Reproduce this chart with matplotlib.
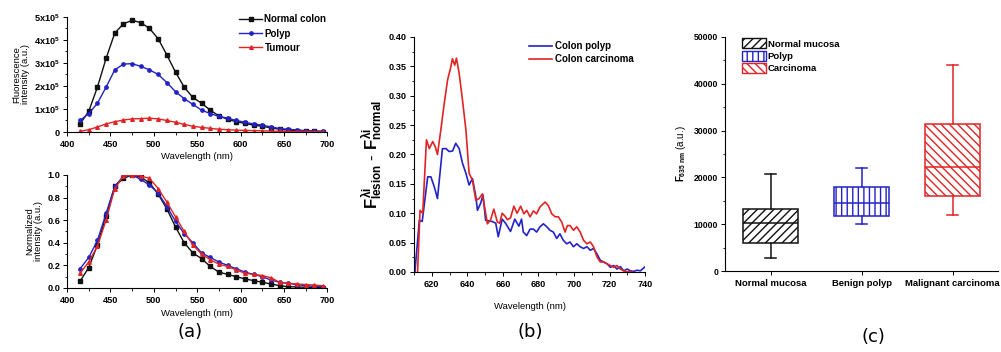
import numpy as np
import matplotlib
matplotlib.use('Agg')
import matplotlib.pyplot as plt
from matplotlib.patches import Patch
from matplotlib.ticker import MultipleLocator, FormatStrFormatter

plt.rcParams['font.family'] = ['Liberation Sans', 'DejaVu Sans']
plt.rcParams['font.weight'] = 'bold'
plt.rcParams['mathtext.fontset'] = 'custom'
plt.rcParams['mathtext.rm'] = 'Liberation Sans:bold'
plt.rcParams['mathtext.it'] = 'Liberation Sans:bold'
plt.rcParams['mathtext.bf'] = 'Liberation Sans:bold'
plt.rcParams['hatch.linewidth'] = 1.0

# ---- panel (a): emission spectra ----
wl_a = [415, 425, 435, 445, 455, 465, 475, 485, 495, 505, 515, 525, 535, 545, 555,
        565, 575, 585, 595, 605, 615, 625, 635, 645, 655, 665, 675, 685, 695]
# raw intensity, units of 1e5
raw_normal = [0.35, 0.9, 1.95, 3.2, 4.3, 4.7, 4.85, 4.75, 4.5, 4.05, 3.35, 2.6, 1.95, 1.5, 1.25,
              0.95, 0.7, 0.55, 0.45, 0.37, 0.3, 0.25, 0.18, 0.12, 0.08, 0.06, 0.04, 0.03, 0.02]
raw_polyp = [0.5, 0.8, 1.25, 1.95, 2.7, 2.95, 2.97, 2.85, 2.7, 2.5, 2.15, 1.75, 1.45, 1.2, 0.95,
             0.8, 0.68, 0.6, 0.5, 0.42, 0.35, 0.3, 0.22, 0.15, 0.12, 0.09, 0.06, 0.05, 0.03]
raw_tumour = [0.03, 0.1, 0.22, 0.35, 0.45, 0.52, 0.57, 0.58, 0.6, 0.57, 0.5, 0.42, 0.33, 0.25, 0.2,
              0.16, 0.12, 0.1, 0.08, 0.07, 0.06, 0.05, 0.04, 0.03, 0.02, 0.02, 0.02, 0.01, 0.01]
norm_normal = [0.06, 0.18, 0.38, 0.64, 0.9, 0.97, 1.0, 0.98, 0.93, 0.83, 0.7, 0.54, 0.4, 0.31, 0.26,
               0.19, 0.14, 0.12, 0.1, 0.08, 0.065, 0.05, 0.035, 0.02, 0.01, 0.01, 0.005, 0.005, 0.0]
norm_polyp = [0.17, 0.27, 0.42, 0.66, 0.9, 0.99, 1.0, 0.96, 0.91, 0.84, 0.72, 0.59, 0.48, 0.4, 0.31,
              0.27, 0.23, 0.2, 0.17, 0.14, 0.12, 0.1, 0.07, 0.05, 0.04, 0.03, 0.02, 0.015, 0.01]
norm_tumour = [0.13, 0.23, 0.37, 0.6, 0.88, 0.99, 1.0, 0.99, 0.97, 0.88, 0.76, 0.63, 0.5, 0.38, 0.3,
               0.25, 0.21, 0.19, 0.16, 0.13, 0.12, 0.11, 0.09, 0.05, 0.04, 0.035, 0.03, 0.025, 0.02]

# ---- panel (b): difference spectra ----
wl_polyp_b = [610.5, 613, 614.6, 616, 617.7, 619.5, 621.4, 623.2, 626, 628, 629.8, 631.7, 633.5, 635.4,
              637.3, 639.2, 641, 642.9, 644.8, 645.7, 647.5, 648.8, 650.3, 654, 656, 657.4, 659.6,
              661.5, 664.3, 666.7, 669, 670.5, 671.5, 673.4, 675.3, 677.2, 679, 680.9, 682.8, 684.7,
              686.5, 688.4, 690.3, 692.1, 694, 695.9, 697.8, 699.7, 701.6, 703.5, 705.4, 707.3,
              709.2, 711, 712.9, 714.8, 716.7, 718.6, 720.5, 722.4, 724.2, 726.1, 728, 729.9,
              731.8, 733.6, 735.5, 737.4, 739.3, 740]
diff_polyp = [0.0, 0.088, 0.086, 0.12, 0.162, 0.162, 0.145, 0.125, 0.21, 0.21, 0.205, 0.206, 0.219, 0.21,
              0.185, 0.168, 0.148, 0.159, 0.128, 0.105, 0.117, 0.131, 0.088, 0.086, 0.083, 0.06, 0.09,
              0.083, 0.069, 0.09, 0.078, 0.09, 0.068, 0.062, 0.073, 0.073, 0.068, 0.077, 0.082, 0.077,
              0.071, 0.068, 0.057, 0.065, 0.054, 0.048, 0.051, 0.043, 0.048, 0.043, 0.04, 0.043,
              0.037, 0.04, 0.031, 0.02, 0.017, 0.014, 0.008, 0.011, 0.005, 0.009, 0.002, 0.005,
              0.002, 0.001, 0.003, 0.002, 0.007, 0.009]
wl_carc_b = [612, 613.4, 614.9, 617, 618.6, 620.5, 622, 623.2, 625.1, 627, 628.9, 630.7, 631.6, 632.9,
             633.9, 635.4, 637.3, 639.2, 641, 642.9, 644.8, 646.6, 648.5, 651.3, 653, 654.9, 656.9,
             658.2, 659.6, 661.5, 662.5, 664.3, 666.2, 668, 670, 671.8, 673.4, 675.3, 677.2, 679,
             680.9, 683.8, 685.6, 687.5, 689.4, 691.2, 693.1, 695, 696.3, 697.8, 699.7, 701.6,
             703.5, 705.4, 707.3, 709.2, 711, 712.9, 714.8, 716.7, 718.6, 720.5, 722.4, 724.2,
             726.1, 728, 729.9, 731.8, 733]
diff_carc = [0.0, 0.105, 0.1, 0.225, 0.21, 0.222, 0.213, 0.2, 0.242, 0.287, 0.327, 0.349, 0.363, 0.352,
             0.364, 0.338, 0.292, 0.242, 0.168, 0.156, 0.122, 0.125, 0.133, 0.082, 0.088, 0.107, 0.085,
             0.083, 0.1, 0.094, 0.089, 0.092, 0.112, 0.1, 0.112, 0.099, 0.105, 0.094, 0.104, 0.099,
             0.111, 0.119, 0.113, 0.099, 0.094, 0.094, 0.085, 0.068, 0.079, 0.079, 0.071, 0.077,
             0.068, 0.054, 0.048, 0.051, 0.043, 0.026, 0.017, 0.017, 0.014, 0.011, 0.008, 0.011,
             0.005, 0.002, 0.0, 0.001, 0.0]

# ---- panel (c): F635 box plot ----
groups = ['Normal mucosa', 'Benign polyp', 'Malignant carcinoma']
legend_c = ['Normal mucosa', 'Polyp', 'Carcinoma']
box_lo = [2800, 10000, 12000]
box_q1 = [6000, 11800, 16000]
box_med = [10300, 14500, 22200]
box_q3 = [13200, 18000, 31500]
box_hi = [20800, 22000, 44000]

BLACK = '#111111'
BLUE = '#2222c8'
RED = '#e02424'
TICK = 6.6
LABEL = 6.8


def style(ax, xmaj, xmin, ymaj, ymin):
    ax.spines['top'].set_visible(False)
    ax.spines['right'].set_visible(False)
    for s in ['left', 'bottom']:
        ax.spines[s].set_linewidth(0.8)
    ax.xaxis.set_major_locator(MultipleLocator(xmaj))
    ax.xaxis.set_minor_locator(MultipleLocator(xmin))
    ax.yaxis.set_major_locator(MultipleLocator(ymaj))
    ax.yaxis.set_minor_locator(MultipleLocator(ymin))
    ax.tick_params(which='major', length=3, width=0.7, labelsize=TICK, pad=2)
    ax.tick_params(axis='x', pad=3)
    ax.tick_params(which='minor', length=1.8, width=0.6)


fig = plt.figure(figsize=(10.01, 3.52), dpi=100)

# (a) top
ax1 = fig.add_axes([0.067, 0.625, 0.260, 0.327])
ax1.plot(wl_a, np.array(raw_normal) * 1e5, '-s', color=BLACK, ms=2.4, lw=1.0, label='Normal colon')
ax1.plot(wl_a, np.array(raw_polyp) * 1e5, '-o', color=BLUE, ms=2.4, lw=1.0, label='Polyp')
ax1.plot(wl_a, np.array(raw_tumour) * 1e5, '-^', color=RED, ms=2.6, lw=1.0, label='Tumour')
ax1.set_xlim(400, 700)
ax1.set_ylim(0, 5e5)
style(ax1, 50, 25, 1e5, 0.5e5)
ax1.set_yticks([0, 1e5, 2e5, 3e5, 4e5, 5e5])
ax1.set_yticklabels(['0'] + [r'$%dx10^5$' % k for k in range(1, 6)])
ax1.set_xlabel('Wavelength (nm)', fontsize=LABEL, labelpad=2)
ax1.set_ylabel('Fluorescence\nintensity (a.u.)', fontsize=LABEL, labelpad=3, linespacing=1.0)
ax1.legend(loc='upper right', bbox_to_anchor=(1.03, 1.1), frameon=False, fontsize=7,
           handlelength=2.4, handletextpad=0.2, labelspacing=0.45)

# (a) bottom
ax2 = fig.add_axes([0.067, 0.182, 0.260, 0.321])
ax2.plot(wl_a, norm_normal, '-s', color=BLACK, ms=2.4, lw=1.0)
ax2.plot(wl_a, norm_polyp, '-o', color=BLUE, ms=2.4, lw=1.0)
ax2.plot(wl_a, norm_tumour, '-^', color=RED, ms=2.6, lw=1.0)
ax2.set_xlim(400, 700)
ax2.set_ylim(0, 1.0)
style(ax2, 50, 25, 0.2, 0.1)
ax2.yaxis.set_major_formatter(FormatStrFormatter('%.1f'))
ax2.set_xlabel('Wavelength (nm)', fontsize=LABEL, labelpad=3)
ax2.set_ylabel('Normalized\nintensity (a.u.)', fontsize=LABEL, labelpad=3, linespacing=1.0)

# (b)
ax3 = fig.add_axes([0.4136, 0.2273, 0.2308, 0.6676])
ax3.plot(wl_polyp_b, diff_polyp, color=BLUE, lw=1.2, label='Colon polyp')
ax3.plot(wl_carc_b, diff_carc, color=RED, lw=1.2, label='Colon carcinoma')
ax3.set_xlim(610, 740)
ax3.set_ylim(0, 0.40)
style(ax3, 20, 10, 0.05, 0.025)
ax3.yaxis.set_major_formatter(FormatStrFormatter('%.2f'))
ax3.set_xlabel('Wavelength (nm)', fontsize=LABEL, labelpad=9)
ax3.set_ylabel(r'$F^{\lambda i}_{lesion}$ - $F^{\lambda i}_{normal}$', fontsize=12, labelpad=3)
ax3.legend(loc='upper right', bbox_to_anchor=(0.99, 1.02), frameon=False, fontsize=7,
           handlelength=2.4, handletextpad=0.3, labelspacing=0.3)

# (c)
ax4 = fig.add_axes([0.7243, 0.2301, 0.2727, 0.6648])
stats = []
for i in range(len(groups)):
    stats.append({'whislo': box_lo[i], 'q1': box_q1[i], 'med': box_med[i],
                  'q3': box_q3[i], 'whishi': box_hi[i], 'fliers': []})
colors_c = [BLACK, BLUE, RED]
hatches_c = ['////', '|||', '\\\\\\\\']
bp = ax4.bxp(stats, positions=[1, 2, 3], widths=0.6, patch_artist=True,
             showfliers=False, capwidths=0.12)
for i, c in enumerate(colors_c):
    bp['boxes'][i].set(facecolor='white', edgecolor=c, hatch=hatches_c[i], linewidth=1.1)
    bp['medians'][i].set(color=c, linewidth=1.1)
    for w in bp['whiskers'][2 * i:2 * i + 2]:
        w.set(color=c, linewidth=1.1)
    for cp in bp['caps'][2 * i:2 * i + 2]:
        cp.set(color=c, linewidth=1.1)
ax4.set_xlim(0.5, 3.5)
ax4.set_ylim(0, 50000)
ax4.spines['top'].set_visible(False)
ax4.spines['right'].set_visible(False)
ax4.set_xticks([1, 2, 3])
ax4.set_xticklabels(groups)
ax4.yaxis.set_major_locator(MultipleLocator(10000))
ax4.yaxis.set_minor_locator(MultipleLocator(5000))
ax4.tick_params(which='major', length=3, width=0.7, labelsize=TICK - 0.4, pad=2)
ax4.tick_params(axis='x', labelsize=6.8, pad=3)
ax4.tick_params(which='minor', length=1.8, width=0.6)
ax4.set_ylabel(r'$F_{635\ nm}$ (a.u.)', fontsize=7, labelpad=4)
handles = [Patch(facecolor='white', edgecolor=colors_c[i], hatch=hatches_c[i], label=legend_c[i])
           for i in range(3)]
ax4.legend(handles=handles, loc='upper left', bbox_to_anchor=(0.03, 1.03), frameon=False,
           fontsize=6.8, handlelength=2.6, handleheight=1.2, handletextpad=0.15, labelspacing=0.25)

# panel letters
for x, y, t in [(0.19, 0.057, '(a)'), (0.53, 0.057, '(b)'), (0.873, 0.043, '(c)')]:
    fig.text(x, y, t, fontsize=13, fontweight='normal', family='DejaVu Sans', ha='center', va='center')

fig.savefig('out.png', dpi=100)
